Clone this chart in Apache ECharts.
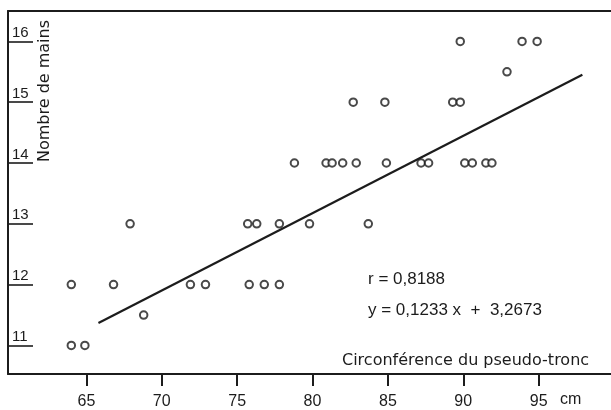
<!DOCTYPE html>
<html>
<head>
<meta charset="utf-8">
<script src="https://cdn.jsdelivr.net/npm/echarts@6/dist/echarts.min.js"></script>
<style>
  html, body { margin: 0; padding: 0; background: #fff; }
  #chart { width: 611px; height: 410px; }
</style>
</head>
<body>
<div id="chart"></div>
<script>
// points: circonference (cm) / nombre de mains
const circonference = [64, 64.9, 68.8,
    64, 66.8, 71.9, 72.9, 75.8, 76.8, 77.8,
    67.9, 75.7, 76.3, 77.8, 79.8, 83.7,
    78.8, 80.9, 81.3, 82.0, 82.9, 84.9, 87.2, 87.7, 90.1, 90.6, 91.5, 91.9,
    82.7, 84.8, 89.3, 89.8,
    92.9,
    89.8, 93.9, 94.9];
const mains = [11, 11, 11.5,
    12, 12, 12, 12, 12, 12, 12,
    13, 13, 13, 13, 13, 13,
    14, 14, 14, 14, 14, 14, 14, 14, 14, 14, 14, 14,
    15, 15, 15, 15,
    15.5,
    16, 16, 16];

// droite de regression telle que tracee
const droiteX = [65.8, 97.9];
const droiteY = [11.37, 15.45];

const xTicks = [65, 70, 75, 80, 85, 90, 95];
const yTicks = [11, 12, 13, 14, 15, 16];

const ink = '#1c1c1c';
const fontNum = 'Liberation Sans';

const chart = echarts.init(document.getElementById('chart'));

chart.setOption({
    animation: false,
    grid: { left: 8, right: 0, top: 11, bottom: 36 },
    xAxis: [{
        type: 'value', min: 59.8, max: 99.8,
        axisLine: { lineStyle: { color: ink, width: 2 } },
        axisTick: { customValues: xTicks, length: 12, lineStyle: { color: ink, width: 2 } },
        axisLabel: { customValues: xTicks, margin: 20, color: ink, fontFamily: fontNum, fontSize: 16 },
        splitLine: { show: false }
    }, {
        type: 'value', position: 'top', min: 59.8, max: 99.8,
        axisLine: { onZero: false, lineStyle: { color: ink, width: 2 } },
        axisTick: { show: false }, axisLabel: { show: false }, splitLine: { show: false }
    }],
    yAxis: {
        type: 'value', min: 10.53, max: 16.5,
        axisLine: { lineStyle: { color: ink, width: 2 } },
        axisTick: { customValues: yTicks, inside: true, length: 25, lineStyle: { color: ink, width: 1.6 } },
        axisLabel: {
            customValues: yTicks, inside: true, margin: 4, color: ink,
            fontFamily: fontNum, fontSize: 15, verticalAlign: 'bottom', padding: [0, 0, 1, 0]
        },
        splitLine: { show: false }
    },
    series: [{
        type: 'scatter',
        data: circonference.map((c, i) => [c, mains[i]]),
        symbol: 'circle', symbolSize: 7.5,
        itemStyle: { color: '#fff', borderColor: ink, borderWidth: 2 }
    }, {
        type: 'line',
        data: droiteX.map((x, i) => [x, droiteY[i]]),
        symbol: 'none',
        lineStyle: { color: ink, width: 2.2 }
    }],
    graphic: [{
        type: 'text', x: 45, y: 91, rotation: Math.PI / 2,
        style: { text: 'Nombre de mains', fill: ink, font: '16px "DejaVu Sans"', textAlign: 'center', textVerticalAlign: 'middle' }
    }, {
        type: 'text', x: 342, y: 361,
        style: { text: 'Circonférence du pseudo-tronc', fill: ink, font: '16px "DejaVu Sans"', textAlign: 'left', textVerticalAlign: 'middle' }
    }, {
        type: 'text', x: 560, y: 400,
        style: { text: 'cm', fill: ink, font: '16px "Liberation Sans"', textAlign: 'left', textVerticalAlign: 'middle' }
    }, {
        type: 'text', x: 368, y: 279,
        style: { text: 'r = 0,8188', fill: ink, font: '17px "Liberation Sans"', textAlign: 'left', textVerticalAlign: 'middle' }
    }, {
        type: 'text', x: 368, y: 310,
        style: { text: 'y = 0,1233 x  +  3,2673', fill: ink, font: '17px "Liberation Sans"', textAlign: 'left', textVerticalAlign: 'middle' }
    }]
});
</script>
</body>
</html>
